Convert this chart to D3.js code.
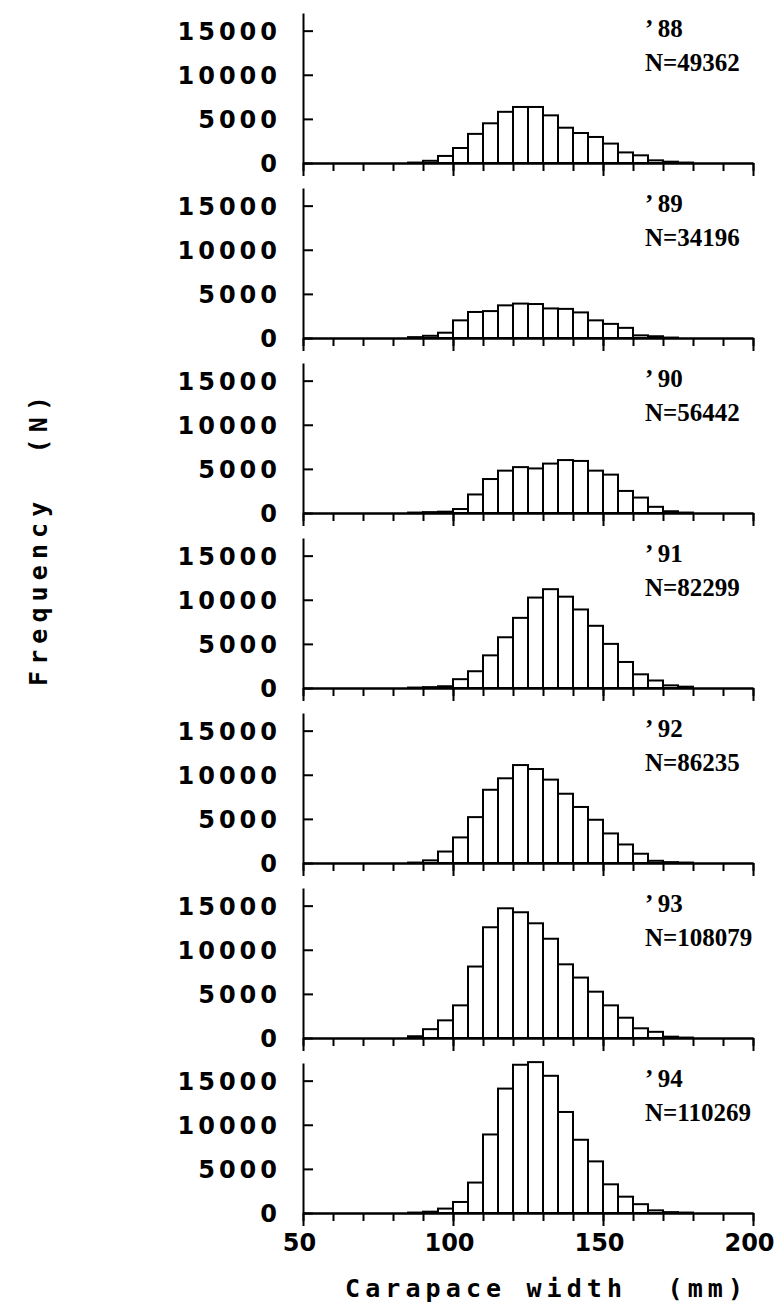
<!DOCTYPE html>
<html>
<head>
<meta charset="utf-8">
<script src="https://cdn.jsdelivr.net/npm/d3@7"></script>
<style>
  body { margin: 0; background: #fff; }
  svg { display: block; }
  .tick text { font-family: "DejaVu Sans", sans-serif; font-weight: bold; font-size: 24px; fill: #000; }
  .yax .tick text { letter-spacing: 4px; }
  .axis path, .axis line { stroke: #000; stroke-width: 2px; }
  .label { font-family: "DejaVu Sans Mono", monospace; font-weight: bold; font-size: 25px; white-space: pre; }
  .note { font-family: "Liberation Serif", serif; font-weight: bold; font-size: 25px; }
</style>
</head>
<body>
<div id="chart"></div>
<script>
// Bin start (mm), each bin is 5 mm wide
const bins = [85, 90, 95, 100, 105, 110, 115, 120, 125, 130, 135, 140, 145, 150, 155, 160, 165, 170, 175];

const yearLabels = ['\u2019 88', '\u2019 89', '\u2019 90', '\u2019 91', '\u2019 92', '\u2019 93', '\u2019 94'];
const totals = ['N=49362', 'N=34196', 'N=56442', 'N=82299', 'N=86235', 'N=108079', 'N=110269'];

// Frequencies, one array per year
const freq88 = [50, 250, 800, 1700, 3300, 4500, 5800, 6350, 6350, 5400, 4000, 3400, 2950, 2200, 1200, 870, 300, 150, 50];
const freq89 = [100, 250, 600, 2000, 2950, 3050, 3700, 3900, 3850, 3350, 3300, 2900, 2000, 1600, 1150, 300, 200, 50, 0];
const freq90 = [50, 100, 150, 450, 2100, 3850, 4800, 5200, 5050, 5600, 6000, 5900, 4800, 4350, 2500, 1750, 700, 200, 50];
const freq91 = [50, 100, 200, 1000, 1900, 3700, 5750, 7950, 10250, 11200, 10350, 8900, 7050, 5000, 2950, 1550, 850, 300, 150];
const freq92 = [50, 300, 1300, 2900, 5200, 8300, 9600, 11100, 10650, 9450, 7850, 6350, 4900, 3350, 2100, 1050, 250, 100, 50];
const freq93 = [200, 1000, 2000, 3700, 8100, 12550, 14700, 14250, 13000, 11250, 8350, 6850, 5250, 3700, 2300, 1100, 700, 150, 50];
const freq94 = [50, 150, 500, 1250, 3450, 8900, 14100, 16800, 17100, 15550, 11450, 8300, 5850, 3250, 1850, 1000, 300, 100, 50];

const series = [freq88, freq89, freq90, freq91, freq92, freq93, freq94];

const yTicks = [0, 5000, 10000, 15000];
const xMinor = d3.range(50, 201, 10);
const xMajor = [50, 100, 150, 200];

const W = 776, H = 1311;
const firstBase = 163, step = 175, panelH = 150;

const svg = d3.select('#chart').append('svg')
    .attr('width', W)
    .attr('height', H);

const x = d3.scaleLinear().domain([50, 200]).range([303, 753]);

series.forEach((vals, i) => {
    const base = firstBase + i * step;
    const y = d3.scaleLinear().domain([0, 17000]).range([base, base - panelH]);
    const g = svg.append('g');

    // bars
    g.selectAll('rect')
        .data(vals.map((v, j) => ({ x0: bins[j], v })))
        .enter()
        .append('rect')
        .attr('x', d => x(d.x0))
        .attr('y', d => y(d.v))
        .attr('width', d => x(d.x0 + 5) - x(d.x0))
        .attr('height', d => y(0) - y(d.v))
        .attr('fill', '#fff')
        .attr('stroke', '#000')
        .attr('stroke-width', 2);

    // y axis: ticks point inward, labels on the left
    g.append('g')
        .attr('class', 'axis yax')
        .attr('transform', `translate(${x(50)},0)`)
        .call(d3.axisLeft(y).tickValues(yTicks).tickSizeInner(-10).tickSizeOuter(0)
            .tickPadding(22).tickFormat(d3.format('d')))
        .selectAll('.tick text').attr('dy', '0.36em');

    // x axis minor ticks
    g.append('g')
        .attr('class', 'axis')
        .attr('transform', `translate(0,${base})`)
        .call(d3.axisBottom(x).tickValues(xMinor).tickSizeInner(8).tickSizeOuter(0).tickFormat(''));

    // x axis major ticks, labels only on the last panel
    const last = i === series.length - 1;
    g.append('g')
        .attr('class', 'axis')
        .attr('transform', `translate(0,${base})`)
        .call(d3.axisBottom(x).tickValues(xMajor).tickSizeInner(13).tickSizeOuter(0)
            .tickPadding(8).tickFormat(last ? d3.format('d') : ''))
        .selectAll('.tick text').attr('dx', -4);

    g.append('text')
        .attr('class', 'note')
        .attr('x', 645)
        .attr('y', base - 126)
        .style('white-space', 'pre')
        .text(yearLabels[i]);

    g.append('text')
        .attr('class', 'note')
        .attr('x', 645)
        .attr('y', base - 92)
        .text(totals[i]);
});

svg.append('text')
    .attr('class', 'label')
    .attr('x', 345)
    .attr('y', 1297)
    .attr('textLength', 398)
    .attr('lengthAdjust', 'spacing')
    .text('Carapace width  (mm)');

svg.append('text')
    .attr('class', 'label')
    .attr('transform', 'translate(47,686) rotate(-90)')
    .attr('textLength', 290)
    .attr('lengthAdjust', 'spacing')
    .text('Frequency  (N)');
</script>
</body>
</html>
